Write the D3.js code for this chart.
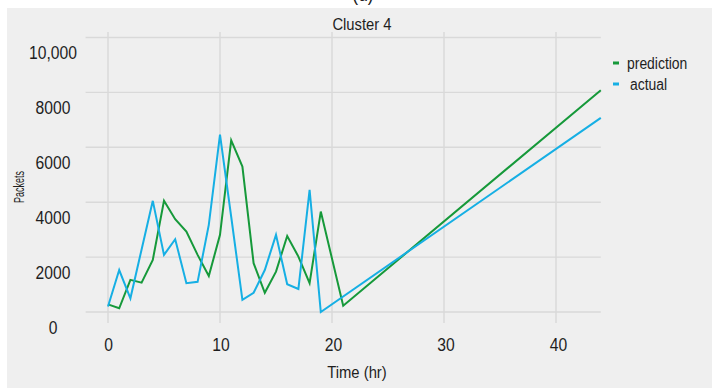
<!DOCTYPE html>
<html>
<head>
<meta charset="utf-8">
<script src="https://cdn.jsdelivr.net/npm/d3@7"></script>
<style>
  body { margin: 0; background: #fff; }
  svg { display: block; font-family: 'Liberation Sans', Arial, sans-serif; }
  .grid line { stroke: #d9d9d9; stroke-width: 1.4; }
  .tick-label { fill: #1e1e1e; }
</style>
</head>
<body>
<div id="chart"></div>
<script>
// values
const actualHours = [0, 1, 2, 3, 4, 5, 6, 7, 8, 9, 10, 11, 12, 13, 14, 15, 16, 17, 18, 19, 44];
const actualPackets = [200, 1530, 500, 2280, 4050, 2080, 2650, 1050, 1100, 3175, 6460, 3470, 440, 700, 1530, 2810, 1010, 840, 4450, 0, 7070];

const predHours = [0, 1, 2, 3, 4, 5, 6, 7, 8, 9, 10, 11, 12, 13, 14, 15, 16, 17, 18, 19, 21, 44];
const predPackets = [280, 135, 1170, 1070, 1900, 4050, 3380, 2930, 2080, 1310, 2810, 6250, 5300, 1780, 700, 1470, 2770, 2020, 1050, 3660, 230, 8080];

const xTicks = [0, 10, 20, 30, 40];
const yTicks = [0, 2000, 4000, 6000, 8000, 10000];
const yTickLabels = ['0', '2000', '4000', '6000', '8000', '10,000'];

const legendNames = ['prediction', 'actual'];
const colors = { prediction: '#16993a', actual: '#16afe4' };

class ClusterChart {

  constructor(_config) {
    this.config = {
      parentElement: _config.parentElement,
      containerWidth: 712,
      containerHeight: 388,
      squeeze: 0.87   // text in the source looks horizontally condensed
    };
    this.initVis();
  }

  initVis() {
    let vis = this;

    vis.svg = d3.select(vis.config.parentElement).append('svg')
      .attr('width', vis.config.containerWidth)
      .attr('height', vis.config.containerHeight);

    // grey panel, white strip on top and left
    vis.svg.append('rect')
      .attr('x', 7).attr('y', 8)
      .attr('width', 705).attr('height', 380)
      .attr('fill', '#efefef');

    // caption of the subfigure, cut off at the top
    vis.svg.append('text')
      .attr('x', 363).attr('y', 1)
      .attr('text-anchor', 'middle')
      .attr('font-size', 20)
      .attr('fill', '#222')
      .text('(d)');

    vis.x = d3.scaleLinear().domain([-2, 44]).range([85.6, 600.8]);
    vis.y = d3.scaleLinear().domain([-400, 10200]).range([323, 32]);

    vis.chart = vis.svg.append('g');

    vis.renderVis();
  }

  renderVis() {
    let vis = this;
    const [x0, x1] = vis.x.range();
    const [yb, yt] = vis.y.range();

    // gridlines
    const grid = vis.chart.append('g').attr('class', 'grid');
    grid.selectAll('.hgrid')
      .data(yTicks)
      .join('line')
      .attr('class', 'hgrid')
      .attr('x1', x0).attr('x2', x1)
      .attr('y1', d => vis.y(d)).attr('y2', d => vis.y(d));
    grid.selectAll('.vgrid')
      .data(xTicks)
      .join('line')
      .attr('class', 'vgrid')
      .attr('x1', d => vis.x(d)).attr('x2', d => vis.x(d))
      .attr('y1', yt).attr('y2', yb);

    // axes: only the labels are visible
    const xAxis = d3.axisBottom(vis.x).tickValues(xTicks).tickSize(0).tickPadding(0);
    const xAxisG = vis.chart.append('g')
      .attr('transform', `translate(0,340)`)
      .call(xAxis);
    xAxisG.select('.domain').remove();
    xAxisG.selectAll('text')
      .attr('class', 'tick-label')
      .attr('font-size', 18)
      .attr('font-family', null)
      .attr('dy', '0.35em')
      .attr('y', 5)
      .attr('dx', (d, i) => i * 0.5);

    const yAxis = d3.axisLeft(vis.y)
      .tickValues(yTicks)
      .tickFormat((d, i) => yTickLabels[i])
      .tickSize(0).tickPadding(0);
    const yAxisG = vis.chart.append('g')
      .attr('transform', `translate(53,15.5)`)
      .call(yAxis);
    yAxisG.select('.domain').remove();
    yAxisG.selectAll('text')
      .attr('class', 'tick-label')
      .attr('font-size', 18)
      .attr('font-family', null)
      .attr('text-anchor', 'middle')
      .attr('x', 0);

    // lines
    const line = d3.line()
      .x(d => vis.x(d[0]))
      .y(d => vis.y(d[1]));

    const series = [
      { name: 'prediction', pts: d3.zip(predHours, predPackets) },
      { name: 'actual', pts: d3.zip(actualHours, actualPackets) }
    ];

    vis.chart.selectAll('.series')
      .data(series)
      .join('path')
      .attr('class', 'series')
      .attr('fill', 'none')
      .attr('stroke', d => colors[d.name])
      .attr('stroke-width', 2)
      .attr('stroke-linejoin', 'miter')
      .attr('d', d => line(d.pts));

    // title and axis titles
    vis.svg.append('text')
      .attr('x', 362).attr('y', 30)
      .attr('text-anchor', 'middle')
      .attr('font-size', 17)
      .attr('fill', '#1e1e1e')
      .text('Cluster 4');

    vis.svg.append('text')
      .attr('x', 357).attr('y', 378)
      .attr('text-anchor', 'middle')
      .attr('font-size', 17)
      .attr('fill', '#1e1e1e')
      .text('Time (hr)');

    vis.svg.append('text')
      .attr('transform', 'translate(24,187) rotate(-90)')
      .attr('text-anchor', 'middle')
      .attr('font-size', 14.5)
      .attr('fill', '#1e1e1e')
      .attr('textLength', 32)
      .attr('lengthAdjust', 'spacingAndGlyphs')
      .text('Packets');

    // legend
    const legend = vis.svg.append('g').attr('transform', 'translate(613,63)');
    const items = legend.selectAll('.legend-item')
      .data(legendNames)
      .join('g')
      .attr('class', 'legend-item')
      .attr('transform', (d, i) => `translate(0,${i * 21})`);
    items.append('rect')
      .attr('x', 0).attr('y', -1.5)
      .attr('width', 6).attr('height', 3)
      .attr('fill', d => colors[d]);
    items.append('text')
      .attr('x', (d, i) => i == 0 ? 14 : 17)
      .attr('dy', '0.35em')
      .attr('font-size', 16)
      .attr('fill', '#1e1e1e')
      .text(d => d);

    // condense the text a little, like the source image
    vis.svg.selectAll('text').each(function() {
      if (this.getAttribute('textLength')) return;
      const w = this.getComputedTextLength();
      d3.select(this)
        .attr('textLength', w * vis.config.squeeze)
        .attr('lengthAdjust', 'spacingAndGlyphs');
    });
  }
}

new ClusterChart({ parentElement: '#chart' });
</script>
</body>
</html>
